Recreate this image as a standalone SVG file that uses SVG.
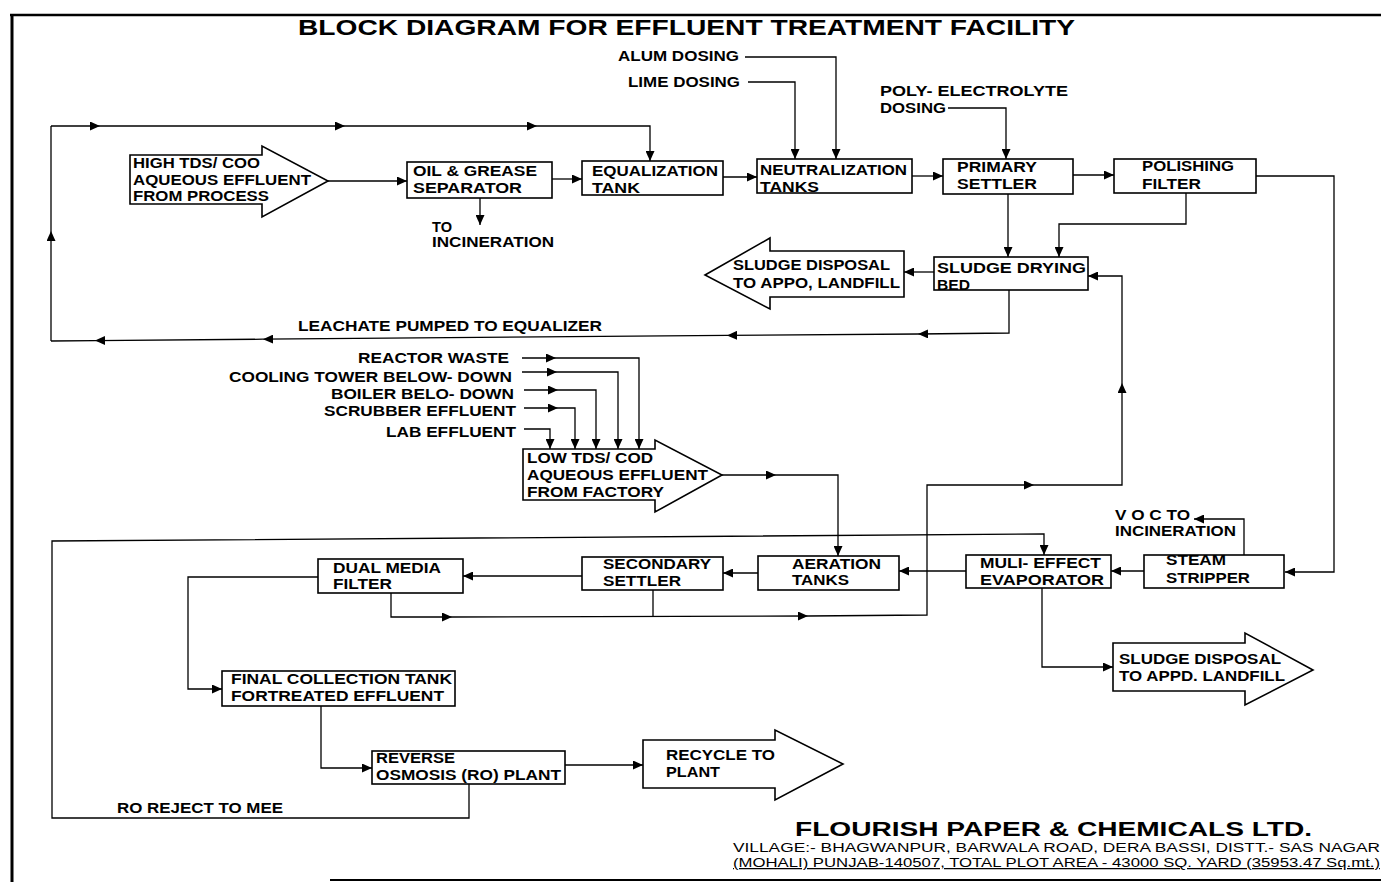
<svg xmlns="http://www.w3.org/2000/svg" width="1381" height="882" viewBox="0 0 1381 882">
<style>
.t{font-family:"Liberation Sans",Arial,Helvetica,sans-serif;font-weight:bold;font-size:14px;fill:#000}
.n{font-family:"Liberation Sans",Arial,Helvetica,sans-serif;font-size:12.5px;fill:#000}
.b{fill:#fff;stroke:#000;stroke-width:1.6}
.c{fill:none;stroke:#000;stroke-width:1.3}
.a{fill:none;stroke:#000;stroke-width:1.3;marker-end:url(#ah)}
.fr{fill:none;stroke:#000}
</style>
<defs>
<marker id="ah" markerUnits="userSpaceOnUse" markerWidth="11" markerHeight="9" refX="10" refY="4.5" orient="auto">
<path d="M0,0 L10,4.5 L0,9 z" fill="#000"/>
</marker>
</defs>
<rect x="0" y="0" width="1381" height="882" fill="#fff"/>
<g id="frame">
<line class="fr" x1="12" y1="14" x2="12" y2="882" stroke-width="3"/>
<line class="fr" x1="10" y1="15" x2="1381" y2="15" stroke-width="2.5"/>
<line class="fr" x1="330" y1="880" x2="1381" y2="880" stroke-width="2"/>
</g>
<g id="title">
<text class="t" x="298" y="35" font-size="22" textLength="777" lengthAdjust="spacingAndGlyphs" style="font-size:22px">BLOCK DIAGRAM FOR EFFLUENT TREATMENT FACILITY</text>
</g>
<g id="connectors">
<!-- leachate loop -->
<polyline class="a" points="1009,290 1009,333 918,334"/>
<line class="a" x1="918" y1="334" x2="727" y2="335.4"/>
<line class="a" x1="727" y1="335.4" x2="263" y2="339.2"/>
<line class="a" x1="263" y1="339.2" x2="95" y2="340.6"/>
<line class="c" x1="95" y1="340.6" x2="51" y2="341"/>
<line class="a" x1="51" y1="341" x2="51" y2="231"/>
<line class="c" x1="51" y1="231" x2="51" y2="126"/>
<line class="a" x1="51" y1="126" x2="100" y2="126"/>
<line class="a" x1="100" y1="126" x2="345" y2="126"/>
<line class="a" x1="345" y1="126" x2="537" y2="126"/>
<polyline class="a" points="537,126 650,126 650,161"/>
<!-- main top flow -->
<line class="a" x1="328" y1="181" x2="407" y2="181"/>
<line class="a" x1="552" y1="179" x2="582" y2="179"/>
<line class="a" x1="480" y1="198" x2="480" y2="225"/>
<line class="a" x1="723" y1="177" x2="757" y2="177"/>
<polyline class="a" points="745,57 836,57 836,159"/>
<polyline class="a" points="748,82 795,82 795,159"/>
<polyline class="a" points="948,108 1006,108 1006,159"/>
<line class="a" x1="912" y1="176" x2="943" y2="176"/>
<line class="a" x1="1073" y1="175" x2="1114" y2="175"/>
<line class="a" x1="1008" y1="194" x2="1008" y2="257"/>
<polyline class="a" points="1186,193 1186,224 1059,224 1059,257"/>
<polyline class="a" points="1256,176 1334,176 1334,572 1285,572"/>
<line class="a" x1="934" y1="272" x2="904" y2="272"/>
<!-- inputs to low TDS -->
<line class="a" x1="522" y1="358" x2="556" y2="358"/>
<polyline class="a" points="556,358 639,358 639,449"/>
<line class="a" x1="522" y1="372" x2="557" y2="372"/>
<polyline class="a" points="557,372 618,372 618,449"/>
<line class="a" x1="524" y1="390" x2="558" y2="390"/>
<polyline class="a" points="558,390 596,390 596,449"/>
<line class="a" x1="524" y1="408" x2="558" y2="408"/>
<polyline class="a" points="558,408 575,408 575,449"/>
<polyline class="a" points="524,429 550,429 550,449"/>
<line class="a" x1="722" y1="475" x2="776" y2="475"/>
<polyline class="a" points="776,475 838,475 838,556"/>
<!-- lower flow -->
<line class="a" x1="966" y1="571" x2="899" y2="571"/>
<line class="a" x1="758" y1="573" x2="723" y2="573"/>
<line class="a" x1="582" y1="576" x2="463" y2="576"/>
<line class="a" x1="1144" y1="571" x2="1111" y2="571"/>
<polyline class="a" points="1244,555 1244,519 1194,519"/>
<polyline class="a" points="1042,588 1042,667 1113,667"/>
<polyline class="a" points="318,577 188,577 188,689 222,689"/>
<polyline class="a" points="391,593 391,617 452,617"/>
<line class="a" x1="452" y1="617" x2="808" y2="616"/>
<polyline class="a" points="808,616 927,615 927,485 1034,485"/>
<polyline class="a" points="1034,485 1122,485 1122,383"/>
<polyline class="a" points="1122,383 1122,276 1088,276"/>
<line class="c" x1="653" y1="590" x2="653" y2="616"/>
<!-- RO reject to MEE -->
<polyline class="a" points="469,784 469,818 52,818 52,541 1044,534 1044,555"/>
<polyline class="a" points="321,706 321,768 372,768"/>
<line class="a" x1="565" y1="765" x2="643" y2="765"/>
</g>
<g id="high_tds">
<path class="b" d="M130,155 H262 V146 L328,181 L262,217 V204 H130 Z"/>
<text class="t" x="133" y="168" textLength="127" lengthAdjust="spacingAndGlyphs">HIGH TDS/ COO</text>
<text class="t" x="133" y="185" textLength="178" lengthAdjust="spacingAndGlyphs">AQUEOUS EFFLUENT</text>
<text class="t" x="133" y="201" textLength="136" lengthAdjust="spacingAndGlyphs">FROM PROCESS</text>
</g>
<g id="oil_grease">
<rect class="b" x="407" y="162" width="145" height="36"/>
<text class="t" x="413" y="176" textLength="124" lengthAdjust="spacingAndGlyphs">OIL &amp; GREASE</text>
<text class="t" x="413" y="193" textLength="109" lengthAdjust="spacingAndGlyphs">SEPARATOR</text>
</g>
<g id="to_incineration">
<text class="t" x="432" y="232" textLength="20" lengthAdjust="spacingAndGlyphs">TO</text>
<text class="t" x="432" y="247" textLength="122" lengthAdjust="spacingAndGlyphs">INCINERATION</text>
</g>
<g id="equalization">
<rect class="b" x="582" y="161" width="141" height="34"/>
<text class="t" x="592" y="176" textLength="126" lengthAdjust="spacingAndGlyphs">EQUALIZATION</text>
<text class="t" x="592" y="193" textLength="48" lengthAdjust="spacingAndGlyphs">TANK</text>
</g>
<g id="neutralization">
<rect class="b" x="757" y="159" width="155" height="34"/>
<text class="t" x="760" y="175" textLength="147" lengthAdjust="spacingAndGlyphs">NEUTRALIZATION</text>
<text class="t" x="760" y="192" textLength="59" lengthAdjust="spacingAndGlyphs">TANKS</text>
</g>
<g id="alum">
<text class="t" x="618" y="61" textLength="121" lengthAdjust="spacingAndGlyphs">ALUM DOSING</text>
</g>
<g id="lime">
<text class="t" x="628" y="87" textLength="112" lengthAdjust="spacingAndGlyphs">LIME DOSING</text>
</g>
<g id="poly">
<text class="t" x="880" y="96" textLength="188" lengthAdjust="spacingAndGlyphs">POLY- ELECTROLYTE</text>
<text class="t" x="880" y="113" textLength="66" lengthAdjust="spacingAndGlyphs">DOSING</text>
</g>
<g id="primary_settler">
<rect class="b" x="943" y="159" width="130" height="35"/>
<text class="t" x="957" y="172" textLength="80" lengthAdjust="spacingAndGlyphs">PRIMARY</text>
<text class="t" x="957" y="189" textLength="80" lengthAdjust="spacingAndGlyphs">SETTLER</text>
</g>
<g id="polishing_filter">
<rect class="b" x="1114" y="159" width="142" height="34"/>
<text class="t" x="1142" y="171" textLength="92" lengthAdjust="spacingAndGlyphs">POLISHING</text>
<text class="t" x="1142" y="189" textLength="59" lengthAdjust="spacingAndGlyphs">FILTER</text>
</g>
<g id="sludge_drying_bed">
<rect class="b" x="934" y="257" width="154" height="33"/>
<text class="t" x="937" y="273" textLength="149" lengthAdjust="spacingAndGlyphs">SLUDGE DRYING</text>
<text class="t" x="937" y="290" textLength="33" lengthAdjust="spacingAndGlyphs">BED</text>
</g>
<g id="sludge_disposal_1">
<path class="b" d="M705,275 L770,238 V251 H904 V297 H770 V309 Z"/>
<text class="t" x="733" y="270" textLength="157" lengthAdjust="spacingAndGlyphs">SLUDGE DISPOSAL</text>
<text class="t" x="733" y="288" textLength="167" lengthAdjust="spacingAndGlyphs">TO APPO, LANDFILL</text>
</g>
<g id="leachate_label">
<text class="t" x="298" y="331" textLength="304" lengthAdjust="spacingAndGlyphs">LEACHATE PUMPED TO EQUALIZER</text>
</g>
<g id="input_labels">
<text class="t" x="358" y="363" textLength="151" lengthAdjust="spacingAndGlyphs">REACTOR WASTE</text>
<text class="t" x="229" y="382" textLength="283" lengthAdjust="spacingAndGlyphs">COOLING TOWER BELOW- DOWN</text>
<text class="t" x="331" y="399" textLength="183" lengthAdjust="spacingAndGlyphs">BOILER BELO- DOWN</text>
<text class="t" x="324" y="416" textLength="192" lengthAdjust="spacingAndGlyphs">SCRUBBER EFFLUENT</text>
<text class="t" x="386" y="437" textLength="130" lengthAdjust="spacingAndGlyphs">LAB EFFLUENT</text>
</g>
<g id="low_tds">
<path class="b" d="M523,449 H655 V440 L722,475 L655,512 V500 H523 Z"/>
<text class="t" x="527" y="463" textLength="126" lengthAdjust="spacingAndGlyphs">LOW TDS/ COD</text>
<text class="t" x="527" y="480" textLength="181" lengthAdjust="spacingAndGlyphs">AQUEOUS EFFLUENT</text>
<text class="t" x="527" y="497" textLength="137" lengthAdjust="spacingAndGlyphs">FROM FACTORY</text>
</g>
<g id="dual_media_filter">
<rect class="b" x="318" y="559" width="145" height="34"/>
<text class="t" x="333" y="573" textLength="108" lengthAdjust="spacingAndGlyphs">DUAL MEDIA</text>
<text class="t" x="333" y="589" textLength="59" lengthAdjust="spacingAndGlyphs">FILTER</text>
</g>
<g id="secondary_settler">
<rect class="b" x="582" y="557" width="141" height="33"/>
<text class="t" x="603" y="569" textLength="108" lengthAdjust="spacingAndGlyphs">SECONDARY</text>
<text class="t" x="603" y="586" textLength="78" lengthAdjust="spacingAndGlyphs">SETTLER</text>
</g>
<g id="aeration_tanks">
<rect class="b" x="758" y="556" width="141" height="34"/>
<text class="t" x="792" y="569" textLength="89" lengthAdjust="spacingAndGlyphs">AERATION</text>
<text class="t" x="792" y="585" textLength="57" lengthAdjust="spacingAndGlyphs">TANKS</text>
</g>
<g id="mee">
<rect class="b" x="966" y="555" width="145" height="33"/>
<text class="t" x="980" y="568" textLength="121" lengthAdjust="spacingAndGlyphs">MULI- EFFECT</text>
<text class="t" x="980" y="585" textLength="124" lengthAdjust="spacingAndGlyphs">EVAPORATOR</text>
</g>
<g id="steam_stripper">
<rect class="b" x="1144" y="555" width="140" height="33"/>
<text class="t" x="1166" y="565" textLength="60" lengthAdjust="spacingAndGlyphs">STEAM</text>
<text class="t" x="1166" y="583" textLength="84" lengthAdjust="spacingAndGlyphs">STRIPPER</text>
</g>
<g id="voc">
<text class="t" x="1115" y="520" textLength="75" lengthAdjust="spacingAndGlyphs">V O C TO</text>
<text class="t" x="1115" y="536" textLength="121" lengthAdjust="spacingAndGlyphs">INCINERATION</text>
</g>
<g id="sludge_disposal_2">
<path class="b" d="M1113,643 H1245 V633 L1313,670 L1245,705 V691 H1113 Z"/>
<text class="t" x="1119" y="664" textLength="162" lengthAdjust="spacingAndGlyphs">SLUDGE DISPOSAL</text>
<text class="t" x="1119" y="681" textLength="166" lengthAdjust="spacingAndGlyphs">TO APPD. LANDFILL</text>
</g>
<g id="final_collection">
<rect class="b" x="222" y="671" width="233" height="35"/>
<text class="t" x="231" y="684" textLength="221" lengthAdjust="spacingAndGlyphs">FINAL COLLECTION TANK</text>
<text class="t" x="231" y="701" textLength="213" lengthAdjust="spacingAndGlyphs">FORTREATED EFFLUENT</text>
</g>
<g id="ro_plant">
<rect class="b" x="372" y="751" width="193" height="33"/>
<text class="t" x="376" y="763" textLength="79" lengthAdjust="spacingAndGlyphs">REVERSE</text>
<text class="t" x="376" y="780" textLength="185" lengthAdjust="spacingAndGlyphs">OSMOSIS (RO) PLANT</text>
</g>
<g id="recycle">
<path class="b" d="M643,740 H775 V730 L843,764 L775,800 V788 H643 Z"/>
<text class="t" x="666" y="760" textLength="109" lengthAdjust="spacingAndGlyphs">RECYCLE TO</text>
<text class="t" x="666" y="777" textLength="54" lengthAdjust="spacingAndGlyphs">PLANT</text>
</g>
<g id="ro_reject_label">
<text class="t" x="117" y="813" textLength="166" lengthAdjust="spacingAndGlyphs">RO REJECT TO MEE</text>
</g>
<g id="footer">
<text class="t" x="795" y="836" textLength="517" lengthAdjust="spacingAndGlyphs" style="font-size:21px">FLOURISH PAPER &amp; CHEMICALS LTD.</text>
<text class="n" x="733" y="852" textLength="647" lengthAdjust="spacingAndGlyphs">VILLAGE:- BHAGWANPUR, BARWALA ROAD, DERA BASSI, DISTT.- SAS NAGAR</text>
<text class="n" x="733" y="867" textLength="647" lengthAdjust="spacingAndGlyphs" text-decoration="underline">(MOHALI) PUNJAB-140507, TOTAL PLOT AREA - 43000 SQ. YARD (35953.47 Sq.mt.)</text>
</g>
</svg>
